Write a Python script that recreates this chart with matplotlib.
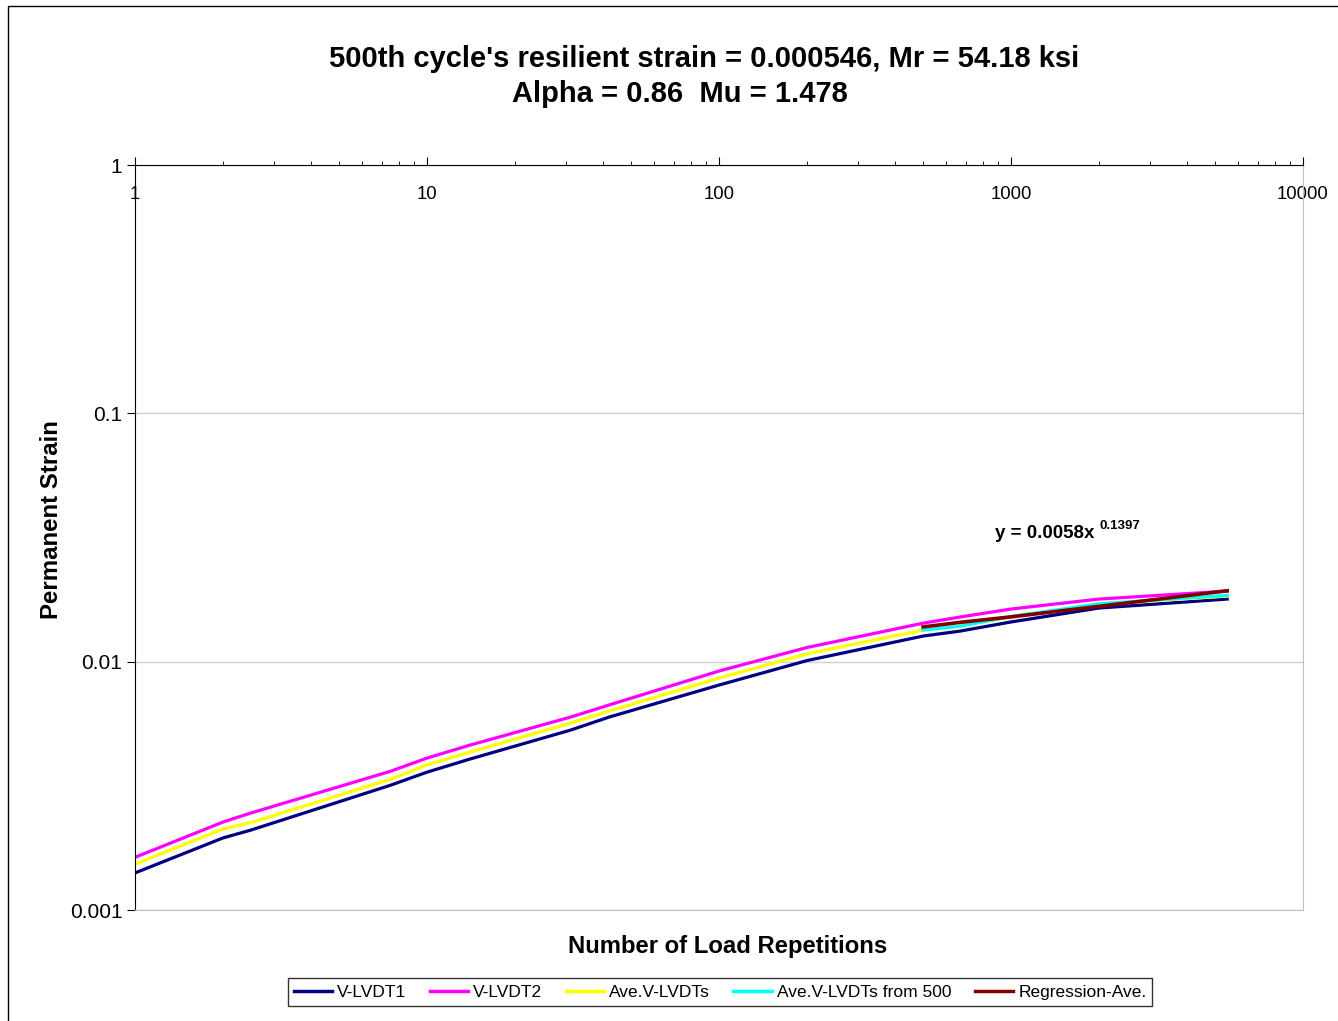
import numpy as np
import matplotlib
matplotlib.use("Agg")
import matplotlib.pyplot as plt
from matplotlib.patches import Rectangle
from matplotlib.ticker import LogLocator, NullFormatter, FixedLocator, FixedFormatter

plt.rcParams["font.family"] = ["Liberation Sans", "DejaVu Sans"]

# load repetitions
cycles = [1, 2, 2.5, 7.5, 10, 14, 31, 42, 100, 200, 500, 670, 1000, 2000, 5500]
v_lvdt1 = [0.00141, 0.00195, 0.00210, 0.00318, 0.00359, 0.00405, 0.00530, 0.00598,
           0.00805, 0.0101, 0.01268, 0.01328, 0.01445, 0.01644, 0.01787]
v_lvdt2 = [0.00163, 0.00226, 0.00246, 0.00362, 0.00409, 0.00461, 0.00598, 0.00669,
           0.00917, 0.01140, 0.01429, 0.01513, 0.01629, 0.01787, 0.01924]
ave_lvdt = [0.00153, 0.00212, 0.00225, 0.00336, 0.00384, 0.00432, 0.00566, 0.00632,
            0.00859, 0.01075, 0.01341, 0.0139, 0.01513, 0.01706, 0.01837]

cycles_500 = [500, 670, 1000, 2000, 5500]
ave_from_500 = [0.01341, 0.0139, 0.0152, 0.0171, 0.0185]
regression = [0.0138, 0.0144, 0.01515, 0.0167, 0.0193]

W, H = 1338, 1021
fig = plt.figure(figsize=(W / 100, H / 100), dpi=100)
fig.patches.append(Rectangle((8 / W, -0.05), 1.2, 1.05 - 6 / H, transform=fig.transFigure,
                             fill=False, edgecolor="black", linewidth=1.0))

ax = fig.add_axes([135 / W, 1 - 910 / H, (1303 - 135) / W, (910 - 165) / H])
ax.set_xscale("log")
ax.set_yscale("log")
ax.set_xlim(1, 10000)
ax.set_ylim(0.001, 1)

ax.plot(cycles, v_lvdt1, color="#000080", lw=2.3, label="V-LVDT1")
ax.plot(cycles, v_lvdt2, color="#FF00FF", lw=2.3, label="V-LVDT2")
ax.plot(cycles, ave_lvdt, color="#FFFF00", lw=2.3, label="Ave.V-LVDTs")
ax.plot(cycles_500, ave_from_500, color="#00FFFF", lw=2.3, label="Ave.V-LVDTs from 500")
ax.plot(cycles_500, regression, color="#800000", lw=2.6, label="Regression-Ave.")

# spines: x axis crosses at y = 1 (top)
for s in ["bottom", "right"]:
    ax.spines[s].set_color("#c0c0c0")
for s in ["top", "left"]:
    ax.spines[s].set_color("black")
ax.grid(axis="y", which="major", color="#d0d0d0", lw=1)

ax.xaxis.set_major_locator(FixedLocator([1, 10, 100, 1000, 10000]))
ax.xaxis.set_major_formatter(FixedFormatter(["1", "10", "100", "1000", "10000"]))
ax.xaxis.set_minor_locator(LogLocator(base=10, subs=np.arange(2, 10)))
ax.xaxis.set_minor_formatter(NullFormatter())
ax.tick_params(axis="x", which="both", bottom=False, top=True, labelbottom=False,
               labeltop=True, direction="out", labelsize=13.3)
ax.tick_params(axis="x", which="major", length=6, pad=-33)
ax.tick_params(axis="x", which="minor", length=3)

ax.yaxis.set_major_locator(FixedLocator([0.001, 0.01, 0.1, 1]))
ax.yaxis.set_major_formatter(FixedFormatter(["0.001", "0.01", "0.1", "1"]))
ax.yaxis.set_minor_locator(FixedLocator([]))
ax.tick_params(axis="y", which="major", direction="out", length=6, labelsize=15, pad=3)

ax.text(0.736, 0.506, "y = 0.0058x", transform=ax.transAxes, fontsize=13.5,
        fontweight="bold", ha="left", va="center")
ax.text(0.826, 0.516, "0.1397", transform=ax.transAxes, fontsize=9.5,
        fontweight="bold", ha="left", va="center")

fig.text(704 / W, 1 - 59 / H, "500th cycle's resilient strain = 0.000546, Mr = 54.18 ksi",
         ha="center", va="center", fontsize=21, fontweight="bold")
fig.text(680 / W, 1 - 94 / H, "Alpha = 0.86  Mu = 1.478",
         ha="center", va="center", fontsize=21, fontweight="bold")
fig.text(728 / W, 1 - 946 / H, "Number of Load Repetitions", ha="center", va="center",
         fontsize=17.2, fontweight="bold")
fig.text(52 / W, 1 - 520 / H, "Permanent Strain", ha="center", va="center",
         rotation=90, fontsize=17.3, fontweight="bold")

leg = fig.legend(loc="center", bbox_to_anchor=(720 / W, 1 - 992 / H), ncol=5,
                 fontsize=12.5, frameon=True, fancybox=False, handlelength=2.2,
                 handletextpad=0.3, columnspacing=1.35, borderpad=0.35)
leg.get_frame().set_edgecolor("black")
leg.get_frame().set_linewidth(1.0)
for line in leg.get_lines():
    line.set_linewidth(2.5)

fig.savefig("out.png", dpi=100)
